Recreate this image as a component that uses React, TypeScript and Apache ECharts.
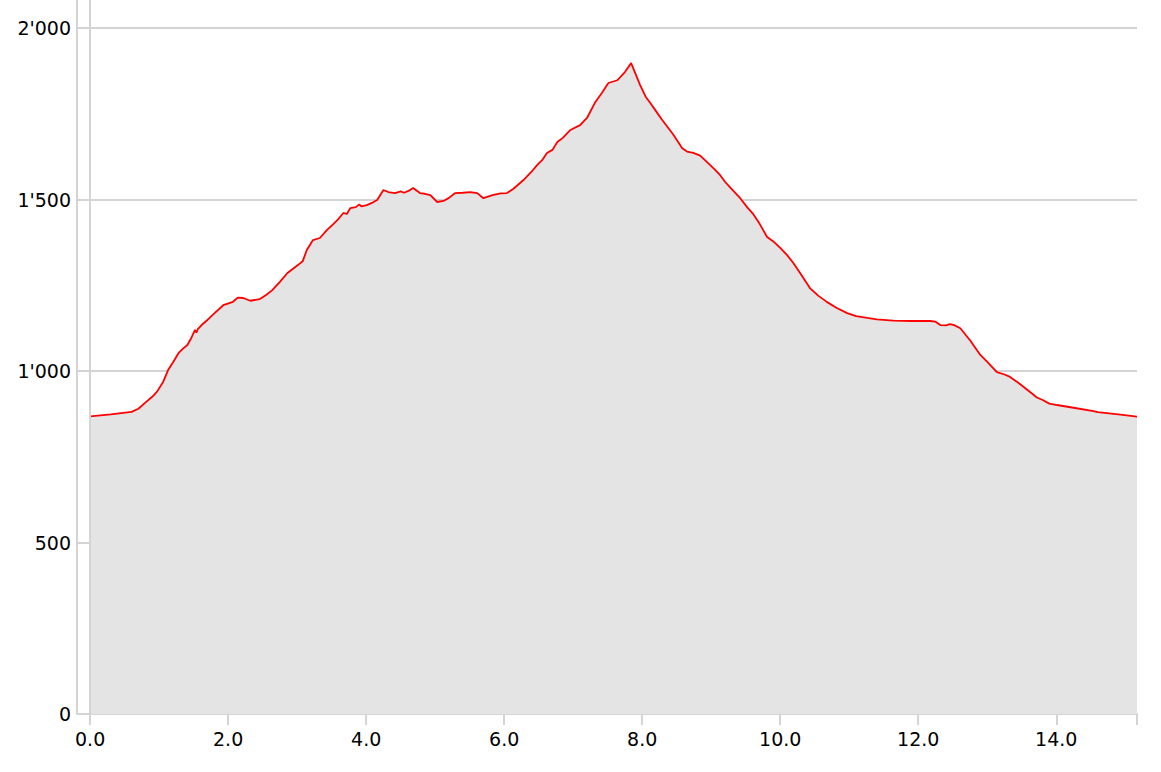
import React, { useEffect, useRef } from "react";
import * as echarts from "echarts";

const distanceKm: number[] = [
  0, 0.3, 0.6, 0.7, 0.8, 0.9, 0.97, 1.06, 1.13, 1.2, 1.28, 1.35, 1.41, 1.47, 1.52, 1.54, 1.56,
  1.62, 1.7, 1.8, 1.93, 2.07, 2.14, 2.22, 2.32, 2.46, 2.55, 2.64, 2.75, 2.86, 2.95, 3.01, 3.08,
  3.14, 3.23, 3.33, 3.43, 3.52, 3.6, 3.67, 3.72, 3.77, 3.85, 3.9, 3.93, 4.01, 4.1, 4.16, 4.25,
  4.32, 4.42, 4.5, 4.55, 4.62, 4.68, 4.78, 4.85, 4.93, 5.03, 5.12, 5.2, 5.29, 5.4, 5.51, 5.61,
  5.7, 5.83, 5.95, 6.04, 6.13, 6.28, 6.4, 6.48, 6.55, 6.62, 6.7, 6.77, 6.85, 6.96, 7.1, 7.2,
  7.32, 7.42, 7.51, 7.64, 7.75, 7.84, 7.97, 8.05, 8.12, 8.2, 8.29, 8.45, 8.58, 8.65, 8.74,
  8.84, 8.94, 9.05, 9.13, 9.2, 9.28, 9.42, 9.52, 9.6, 9.7, 9.81, 9.9, 10.0, 10.1, 10.19,
  10.3, 10.43, 10.55, 10.68, 10.82, 10.97, 11.1, 11.26, 11.4, 11.64, 11.9, 12.17, 12.25,
  12.32, 12.4, 12.46, 12.52, 12.61, 12.75, 12.9, 13.0, 13.14, 13.25, 13.33, 13.45, 13.62,
  13.72, 13.81, 13.9, 14.01, 14.25, 14.54, 14.6, 14.9, 15.17,
];

const elevationM: number[] = [
  868, 874, 881, 890, 908, 925, 940, 969, 1003, 1025, 1052, 1066, 1076, 1098, 1120, 1112, 1122,
  1135, 1149, 1168, 1192, 1202, 1214, 1213, 1205, 1210, 1222, 1236, 1260, 1286, 1300, 1309, 1320,
  1353, 1382, 1388, 1411, 1428, 1444, 1461, 1458, 1475, 1478, 1486, 1480, 1484, 1492, 1499, 1528,
  1522, 1519, 1524, 1520, 1526, 1534, 1519, 1517, 1513, 1493, 1496, 1505, 1519, 1520, 1522, 1519,
  1504, 1513, 1518, 1519, 1531, 1557, 1582, 1601, 1615, 1636, 1645, 1668, 1680, 1703, 1717, 1738,
  1784, 1812, 1840, 1848, 1872, 1898, 1834, 1800, 1781, 1758, 1732, 1690, 1650, 1640, 1636,
  1628, 1609, 1588, 1571, 1552, 1534, 1504, 1478, 1460, 1430, 1391, 1378, 1359, 1338, 1315,
  1282, 1242, 1220, 1201, 1184, 1169, 1160, 1155, 1151, 1147, 1146, 1146, 1144,
  1134, 1133, 1137, 1134, 1125, 1090, 1047, 1027, 997, 990, 983, 966, 939,
  923, 915, 905, 901, 893, 883, 880, 874, 867,
];

const xTickValues: number[] = [0, 2, 4, 6, 8, 10, 12, 14];
const yTickValues: number[] = [0, 500, 1000, 1500, 2000];

const X_MIN = -0.19;
const X_MAX = 15.17;
const Y_MAX = 2082;

const fmtThousands = (v: number) =>
  String(Math.round(v)).replace(/\B(?=(\d{3})+(?!\d))/g, "'");

export default function App() {
  const ref = useRef<HTMLDivElement>(null);

  useEffect(() => {
    if (!ref.current) return;
    const chart = echarts.init(ref.current, null, { renderer: "svg" });
    const data = distanceKm.map((d, i) => [d, elevationM[i]]);
    const gridColor = "#d4d4d4";
    const textStyle = { color: "#000", fontFamily: "DejaVu Sans", fontSize: 19 };
    chart.setOption({
      animation: false,
      grid: { left: 77, right: 24, top: 0, bottom: 58, containLabel: false },
      xAxis: {
        type: "value",
        min: X_MIN,
        max: X_MAX,
        axisLine: { show: true, onZero: false, lineStyle: { color: gridColor, width: 2 } },
        axisTick: {
          show: true,
          length: 11,
          customValues: [...xTickValues, X_MAX],
          lineStyle: { color: gridColor, width: 2 },
        },
        axisLabel: {
          customValues: xTickValues,
          formatter: (v: number) => v.toFixed(1),
          margin: 15,
          ...textStyle,
        },
        splitLine: { show: false },
      },
      yAxis: {
        type: "value",
        min: 0,
        max: Y_MAX,
        axisLine: { show: true, onZero: false, lineStyle: { color: gridColor, width: 2 } },
        axisTick: { show: false, customValues: yTickValues },
        axisLabel: {
          customValues: yTickValues,
          formatter: (v: number) => fmtThousands(v),
          margin: 6,
          ...textStyle,
        },
        splitLine: { show: true, lineStyle: { color: gridColor, width: 2 } },
      },
      series: [
        {
          type: "line",
          data,
          showSymbol: false,
          symbol: "none",
          smooth: false,
          lineStyle: { color: "#ff0000", width: 1.8 },
          areaStyle: { color: "#e4e4e4", opacity: 1 },
          z: 3,
          markLine: {
            silent: true,
            symbol: "none",
            label: { show: false },
            lineStyle: { color: gridColor, width: 2, type: "solid" },
            data: [{ xAxis: 0 }],
            z: 5,
          },
        },
      ],
    });
    return () => chart.dispose();
  }, []);

  return (
    <div
      ref={ref}
      style={{ width: 1161, height: 772, position: "absolute", left: 0, top: 0 }}
    />
  );
}
